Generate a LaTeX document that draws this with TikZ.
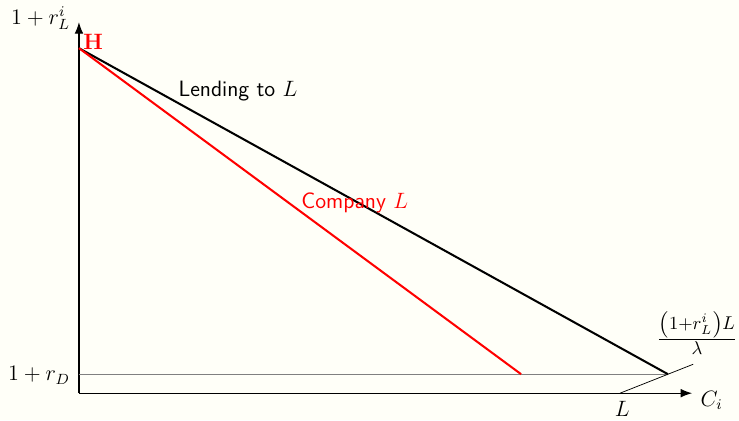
\documentclass[tikz,border=0pt]{standalone}
\usepackage{xcolor}
\usepackage{tikz}
\usetikzlibrary{
  positioning,
  arrows.meta
}
\definecolor{paper}{RGB}{255,255,248}
\tikzset{
  >=Latex,
  axis/.style={-{Latex[length=2.2mm]},semithick},
  budget/.style={line width=1.1pt},
  company/.style={line width=1.1pt,red},
  deposit/.style={thin,gray},
  seglab/.style={font=\large\sffamily},
  mathlab/.style={font=\large}
}

\begin{document}
\begin{tikzpicture}[x=1cm,y=1cm]
    \fill[paper] (-1.50,-0.513) rectangle (12.54,7.47);
    \useasboundingbox (-1.50,-0.513) rectangle (12.54,7.47);

    % points
    \coordinate (O) at (0,0);
    \coordinate (xend) at (11.65,0);
    \coordinate (yend) at (0,7.05);
    \coordinate (H) at (0,6.555);
    \coordinate (D) at (0,0.361);
    \coordinate (E) at (11.19,0.361);
    \coordinate (R) at (8.40,0.361);
    \coordinate (Lx) at (10.28,0);
    \coordinate (Lext) at (11.67,0.55);

    \draw[axis] (O) -- (xend);
    \draw[axis] (O) -- (yend);
    \draw[deposit] (D) -- (E);
    \draw[budget] (H) -- (E);
    \draw[company] (H) -- (R);
    \draw[thin] (Lx) -- (Lext);

    \node[mathlab] (ylab) at (-0.73,7.13) {$1+r_L^i$};
    \node[mathlab] (dlab) at (-0.76,0.34) {$1+r_D$};
    \node[mathlab] (xlab) at (12.02,-0.14) {$C_i$};
    \node[mathlab] (llab) at (10.32,-0.30) {$L$};
    \node[mathlab] (hlab) at (0.27,6.67) {\textcolor{red}{\textbf{H}}};
    \node[font=\Large] (frac) at (11.74,1.14) {$\frac{\left(1+r_L^i\right)L}{\lambda}$};
    \node[seglab] (lend) at (3.02,5.74) {Lending to $L$};
    \node[seglab,red] (comp) at (5.24,3.61) {Company $L$};
\end{tikzpicture}
\end{document}
